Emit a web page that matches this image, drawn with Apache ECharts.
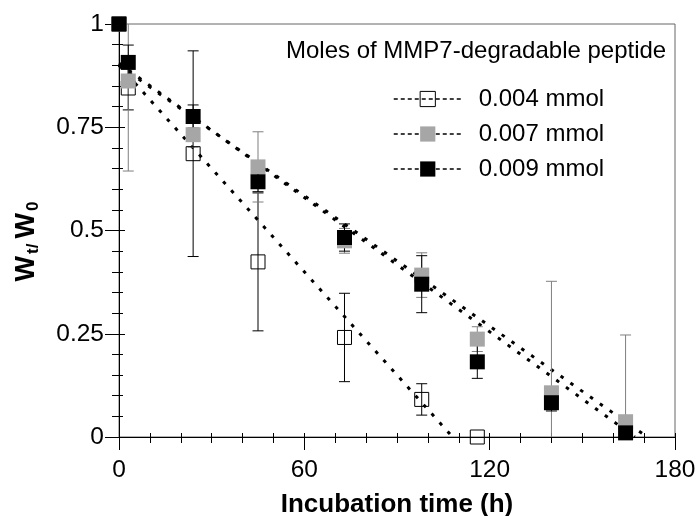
<!DOCTYPE html>
<html>
<head>
<meta charset="utf-8">
<script src="https://cdn.jsdelivr.net/npm/echarts@6/dist/echarts.min.js"></script>
<style>html,body{margin:0;padding:0;background:#fff}#c{width:699px;height:516px}</style>
</head>
<body>
<div id="c"></div>
<script>
// ---- data ----
var seriesNames = ['0.004 mmol', '0.007 mmol', '0.009 mmol'];
var legendTitle = 'Moles of MMP7-degradable peptide';
var xTitle = 'Incubation time (h)';

var timeOpen = [0, 3, 24, 45, 73, 98, 116];
var valOpen  = [1, 0.845, 0.686, 0.424, 0.241, 0.091, 0];
var errOpen  = [0, 0.053, 0.249, 0.167, 0.107, 0.038, 0];

var timeGray = [0, 3, 24, 45, 73, 98, 116, 140, 164];
var valGray  = [1, 0.862, 0.732, 0.654, 0.475, 0.392, 0.237, 0.107, 0.037];
var errGray  = [0, 0.218, 0.03, 0.085, 0.03, 0.054, 0.03, 0.27, 0.21];

var timeBlack = [0, 3, 24, 45, 73, 98, 116, 140, 164];
var valBlack  = [1, 0.907, 0.776, 0.618, 0.483, 0.370, 0.182, 0.083, 0.010];
var errBlack  = [0, 0.042, 0.028, 0.024, 0.033, 0.069, 0.04, 0.02, 0.01];

// linear fit lines: [x, y] end points
var fitOpen  = [[0, 0.9], [108, 0]];
var fitGray  = [[0, 0.9], [171, 0]];
var fitBlack = [[0, 0.905], [167, 0]];

var xMin = 0, xMax = 180, xStep = 60;
var yMin = 0, yMax = 1, yStep = 0.25;

// ---- build ----
var FONT = "'Liberation Sans', Arial, sans-serif";
function pts(t, v) { return t.map(function (x, i) { return [x, v[i]]; }); }
function errs(t, v, e) {
  var out = [];
  t.forEach(function (x, i) { if (e[i] > 0) out.push([x, v[i] - e[i], v[i] + e[i]]); });
  return out;
}
function errRender(color) {
  return function (params, api) {
    var x = api.value(0), lo = api.value(1), hi = api.value(2);
    var a = api.coord([x, hi]), b = api.coord([x, lo]);
    var w = 5.5, st = { stroke: color, lineWidth: 1, fill: null };
    return { type: 'group', children: [
      { type: 'line', shape: { x1: a[0], y1: a[1], x2: b[0], y2: b[1] }, style: st },
      { type: 'line', shape: { x1: a[0] - w, y1: a[1], x2: a[0] + w, y2: a[1] }, style: st },
      { type: 'line', shape: { x1: b[0] - w, y1: b[1], x2: b[0] + w, y2: b[1] }, style: st }
    ] };
  };
}
var GRAY = '#a6a6a6';
var styles = [
  { color: 'rgba(0,0,0,0)', borderColor: '#000', borderWidth: 1, size: 14, err: '#000' },
  { color: GRAY, borderColor: GRAY, borderWidth: 0, size: 15, err: '#7f7f7f' },
  { color: '#000', borderColor: '#000', borderWidth: 0, size: 15, err: '#000' }
];
var fits = [fitOpen, fitGray, fitBlack];
var ptSets = [pts(timeOpen, valOpen), pts(timeGray, valGray), pts(timeBlack, valBlack)];
var errSets = [errs(timeOpen, valOpen, errOpen), errs(timeGray, valGray, errGray), errs(timeBlack, valBlack, errBlack)];

var series = [];
seriesNames.forEach(function (n, i) {
  series.push({
    name: n, type: 'line', data: fits[i], xAxisIndex: 0, yAxisIndex: 0,
    symbol: 'rect', showSymbol: false, silent: true, z: 2,
    lineStyle: { color: '#000', width: 3, type: [3.5, 8.5] },
    itemStyle: { color: styles[i].color, borderColor: styles[i].borderColor, borderWidth: styles[i].borderWidth }
  });
});
seriesNames.forEach(function (n, i) {
  series.push({
    name: 'err ' + n, type: 'custom', data: errSets[i], xAxisIndex: 0, yAxisIndex: 0,
    encode: { x: 0, y: [1, 2] }, clip: true, z: 3, silent: true,
    renderItem: errRender(styles[i].err)
  });
});
seriesNames.forEach(function (n, i) {
  series.push({
    name: 'pts ' + n, type: 'scatter', data: ptSets[i], xAxisIndex: 0, yAxisIndex: 0,
    symbol: 'rect', symbolSize: styles[i].size, z: 5, silent: true,
    itemStyle: { color: styles[i].color, borderColor: styles[i].borderColor, borderWidth: styles[i].borderWidth, opacity: 1 }
  });
});

function axisPair(isX) {
  var base = {
    type: 'value', gridIndex: 0,
    min: isX ? xMin : yMin, max: isX ? xMax : yMax, interval: isX ? xStep : yStep,
    position: isX ? 'bottom' : 'left',
    splitLine: { show: false }
  };
  var outer = Object.assign({}, base, {
    axisLine: { show: true, onZero: false, lineStyle: { color: '#000', width: 1 } },
    axisTick: { show: true, inside: false, length: isX ? 13 : 14, lineStyle: { color: '#000' } },
    minorTick: { show: true, splitNumber: isX ? 6 : 5, length: isX ? 6 : 7, lineStyle: { color: '#000' } },
    axisLabel: { show: true, margin: isX ? 21 : 15, fontSize: 24.5, color: '#000', fontFamily: FONT },
    name: isX ? xTitle : '{W|W}{s|t/}{W|W}{e|0}',
    nameLocation: 'middle',
    nameGap: isX ? 55 : 79,
    nameRotate: isX ? 0 : 90,
    nameTextStyle: isX ? { fontSize: 26, fontWeight: 'bold', color: '#000', fontFamily: FONT } : {
      color: '#000', fontFamily: FONT,
      rich: {
        W: { fontSize: 27, fontWeight: 'bold', lineHeight: 27, verticalAlign: 'top', fontFamily: FONT, color: '#000' },
        s: { fontSize: 17, fontWeight: 'bold', lineHeight: 17, verticalAlign: 'top', padding: [12, 5, 0, 2], fontFamily: FONT, color: '#000' },
        e: { fontSize: 17, fontWeight: 'bold', lineHeight: 17, verticalAlign: 'top', padding: [12, 22, 0, 2], fontFamily: FONT, color: '#000' }
      }
    }
  });
  var inner = Object.assign({}, base, {
    axisLine: { show: false, onZero: false },
    axisTick: { show: true, inside: true, length: isX ? 4 : 6, lineStyle: { color: '#000' } },
    minorTick: { show: true, splitNumber: isX ? 6 : 5, length: 4, lineStyle: { color: '#000' } },
    axisLabel: { show: false }
  });
  return [outer, inner];
}

var chart = echarts.init(document.getElementById('c'), null, { renderer: 'canvas' });
chart.setOption({
  animation: false,
  backgroundColor: '#fff',
  textStyle: { fontFamily: FONT },
  title: {
    text: legendTitle, left: 286, top: 39, padding: 0,
    textStyle: { fontSize: 24, fontWeight: 'normal', color: '#000', fontFamily: FONT }
  },
  grid: { left: 119, right: 24, top: 24, bottom: 79, show: true, borderColor: '#666', borderWidth: 1, backgroundColor: 'transparent', containLabel: false, outerBoundsMode: 'none' },
  legend: {
    orient: 'vertical', left: 393, top: 87, padding: 0,
    itemWidth: 68, itemHeight: 19, itemGap: 11,
    selectedMode: false,
    textStyle: { fontSize: 24, color: '#000', fontFamily: FONT, padding: [0, 0, 0, 12] },
    data: seriesNames.map(function (n, i) {
      return {
        name: n,
        itemStyle: { color: styles[i].color, borderColor: styles[i].borderColor, borderWidth: styles[i].borderWidth },
        lineStyle: { color: '#000', width: 1.5, type: [4, 3] }
      };
    })
  },
  xAxis: axisPair(true),
  yAxis: axisPair(false),
  series: series
});
</script>
</body>
</html>
